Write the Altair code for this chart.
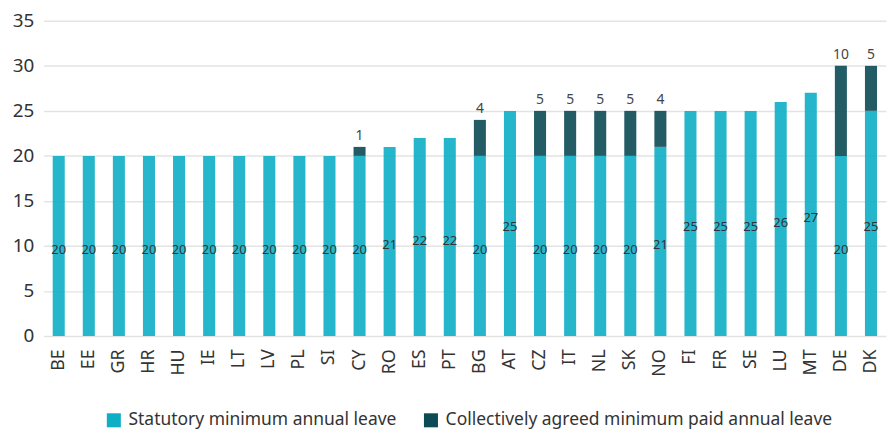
import altair as alt
import pandas as pd

countries = ["BE", "EE", "GR", "HR", "HU", "IE", "LT", "LV", "PL", "SI", "CY", "RO", "ES", "PT",
             "BG", "AT", "CZ", "IT", "NL", "SK", "NO", "FI", "FR", "SE", "LU", "MT", "DE", "DK"]
statutory = [20, 20, 20, 20, 20, 20, 20, 20, 20, 20, 20, 21, 22, 22,
             20, 25, 20, 20, 20, 20, 21, 25, 25, 25, 26, 27, 20, 25]
collective = [0, 0, 0, 0, 0, 0, 0, 0, 0, 0, 1, 0, 0, 0,
              4, 0, 5, 5, 5, 5, 4, 0, 0, 0, 0, 0, 10, 5]

series = ["Statutory minimum annual leave", "Collectively agreed minimum paid annual leave"]
colors = ["#0eaec5", "#0c4a55"]
y_ticks = [0, 5, 10, 15, 20, 25, 30, 35]

FONT = "Noto Sans"

rows = []
for c, s, k in zip(countries, statutory, collective):
    rows.append({"country": c, "series": series[0], "value": s, "ord": 0})
    rows.append({"country": c, "series": series[1], "value": k, "ord": 1})
long_df = pd.DataFrame(rows)

wide_df = pd.DataFrame({"country": countries, "statutory": statutory, "collective": collective})

x_enc = alt.X("country:N", sort=countries, title=None,
              scale=alt.Scale(paddingInner=0.6, paddingOuter=0.3),
              axis=alt.Axis(labelAngle=-90, labelFontSize=18, labelFont=FONT, labelColor="#333333",
                            ticks=False, domain=False, labelPadding=13, grid=False))

bars = alt.Chart(long_df).mark_bar(opacity=0.9).encode(
    x=x_enc,
    y=alt.Y("value:Q", stack="zero", title=None,
            scale=alt.Scale(domain=[0, 35], nice=False),
            axis=alt.Axis(values=y_ticks, labelFontSize=19, labelFont=FONT, labelColor="#333333",
                          ticks=False, domain=False, labelPadding=10,
                          gridColor="#e3e3e3", gridWidth=1.5)),
    color=alt.Color("series:N", sort=series,
                    scale=alt.Scale(domain=series, range=colors),
                    legend=alt.Legend(title=None, orient="none", direction="horizontal",
                                      legendX=62, legendY=394,
                                      symbolType="square", symbolSize=200, symbolStrokeWidth=0,
                                      symbolOpacity=1,
                                      labelFontSize=17.6, labelFont=FONT, labelColor="#333333",
                                      labelOffset=6, columnPadding=26, labelLimit=500)),
    order=alt.Order("ord:Q", sort="ascending"),
)

inner = alt.Chart(wide_df).transform_calculate(
    mid="datum.statutory / 2"
).mark_text(fontSize=13, font=FONT, color="#333333", baseline="middle", dy=4).encode(
    x=alt.X("country:N", sort=countries),
    y=alt.Y("mid:Q"),
    text=alt.Text("statutory:Q"),
)

top = alt.Chart(wide_df).transform_filter(
    "datum.collective > 0"
).transform_calculate(
    total="datum.statutory + datum.collective"
).mark_text(fontSize=14, font=FONT, color="#444444", baseline="bottom", dy=-4).encode(
    x=alt.X("country:N", sort=countries),
    y=alt.Y("total:Q"),
    text=alt.Text("collective:Q"),
)

chart = alt.layer(bars, inner, top).properties(
    width=850, height=318,
    autosize=alt.AutoSizeParams(type="none"),
    padding={"left": 36, "top": 11, "right": 1, "bottom": 102},
).configure_view(stroke=None)

chart.save("out.html", embed_options={"renderer": "svg", "actions": False})
